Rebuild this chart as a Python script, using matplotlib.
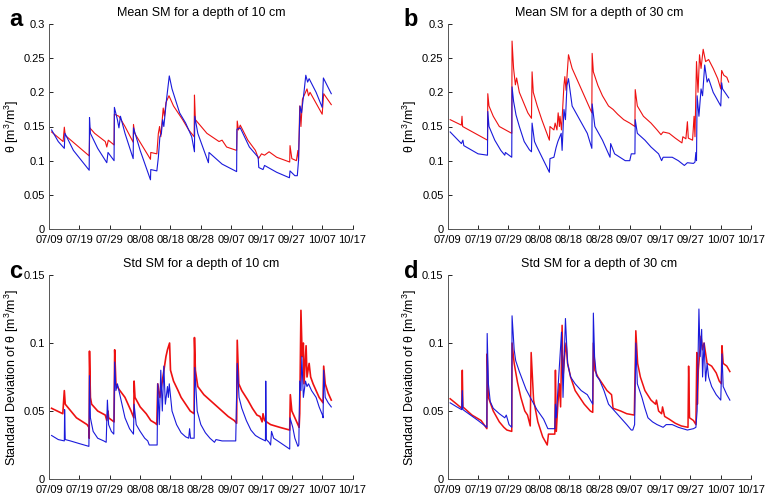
"""Soil moisture mean / std at 10 and 30 cm depth (4 panels)."""
import matplotlib
matplotlib.use("Agg")
import matplotlib.pyplot as plt

plt.rcParams["font.family"] = ["Liberation Sans", "DejaVu Sans"]
plt.rcParams["mathtext.fontset"] = "custom"
plt.rcParams["mathtext.rm"] = "Liberation Sans"

# x positions are days since 07/09
TICK_DAYS = [0, 10, 20, 30, 40, 50, 60, 70, 80, 90, 100]
TICK_LABELS = ["07/09", "07/19", "07/29", "08/08", "08/18", "08/28",
               "09/07", "09/17", "09/27", "10/07", "10/17"]

# --- panel a: mean SM, 10 cm
a_red_day = [0.8, 4.6, 5.0, 5.3, 13.2, 13.4, 15, 18.5, 19.0, 19.5, 21.4, 21.5, 23, 25, 27.7,
             27.8, 28.2, 33.4, 33.5, 35.5, 36.0, 36.4, 36.8, 37.6, 38.0, 38.5, 39.5, 41, 44, 46,
             47.8, 47.9, 48.2, 52, 56, 57, 58.5, 61.8, 62.0, 62.4, 63, 65.5, 68, 69.0, 70.0, 71,
             72.5, 75, 79.3, 79.4, 80, 81.5, 82.0, 82.2, 82.6, 83.0, 83.5, 85, 85.5, 86, 90.0,
             90.5, 93]
a_red_val = [0.142, 0.128, 0.149, 0.137, 0.107, 0.148, 0.14, 0.128, 0.12, 0.13, 0.123, 0.168,
             0.165, 0.15, 0.127, 0.153, 0.14, 0.102, 0.112, 0.11, 0.14, 0.15, 0.135, 0.177, 0.165,
             0.185, 0.195, 0.18, 0.16, 0.145, 0.135, 0.196, 0.16, 0.14, 0.128, 0.13, 0.12, 0.115,
             0.158, 0.145, 0.152, 0.13, 0.115, 0.103, 0.11, 0.108, 0.113, 0.105, 0.098, 0.122,
             0.103, 0.1, 0.115, 0.1, 0.18, 0.15, 0.19, 0.205, 0.195, 0.2, 0.168, 0.198, 0.182]
a_blue_day = [0.8, 3, 5.0, 5.2, 8, 13.2, 13.3, 13.6, 16, 19.0, 19.4, 21.4, 21.5, 22.5, 23.0,
              23.5, 25, 27.7, 27.8, 30, 33.4, 33.5, 35.5, 36.0, 36.5, 37.0, 37.4, 37.8, 38.7,
              39.6, 40.5, 43, 45, 47, 47.9, 48.0, 49, 52.5, 52.7, 57, 61.8, 61.9, 63, 66, 68.9,
              69.1, 70.5, 71, 75, 79.2, 79.4, 81, 81.8, 82.2, 82.7, 83.2, 84, 84.6, 85.2, 85.7,
              88, 90.0, 90.4, 93]
a_blue_val = [0.145, 0.128, 0.118, 0.14, 0.115, 0.086, 0.163, 0.14, 0.118, 0.097, 0.112, 0.1,
              0.178, 0.16, 0.148, 0.165, 0.14, 0.103, 0.148, 0.115, 0.072, 0.087, 0.085, 0.105,
              0.135, 0.14, 0.16, 0.15, 0.19, 0.224, 0.205, 0.17, 0.155, 0.135, 0.113, 0.165, 0.14,
              0.097, 0.112, 0.095, 0.084, 0.146, 0.148, 0.12, 0.105, 0.09, 0.087, 0.093, 0.083,
              0.075, 0.085, 0.078, 0.078, 0.1, 0.18, 0.17, 0.2, 0.225, 0.215, 0.22, 0.2, 0.178,
              0.221, 0.198]

# --- panel b: mean SM, 30 cm
b_red_day = [0.8, 4.5, 4.7, 4.9, 13.1, 13.2, 13.6, 15, 17, 21.1, 21.2, 21.7, 22.3, 22.7, 23.6,
             25, 26.4, 27.6, 27.8, 28.2, 29.5, 31, 33.5, 33.7, 35, 35.4, 36, 36.4, 36.8, 37.0,
             37.5, 38.3, 38.6, 39.0, 39.8, 41, 43, 44.5, 46, 47.5, 47.6, 48, 49.5, 51, 53, 54.5,
             56, 58, 60, 61.7, 61.8, 62.5, 64.5, 67, 69, 70.3, 71, 73, 75, 77.2, 77.5, 78.5,
             79.0, 79.3, 80.7, 81.2, 81.5, 82.0, 82.5, 83.0, 83.5, 84.2, 85, 86, 87.5, 89, 90.0,
             90.3, 91, 92, 92.6]
b_red_val = [0.16, 0.152, 0.165, 0.15, 0.13, 0.198, 0.18, 0.165, 0.15, 0.14, 0.275, 0.235,
             0.211, 0.221, 0.2, 0.185, 0.17, 0.162, 0.23, 0.2, 0.18, 0.16, 0.13, 0.15, 0.145,
             0.155, 0.145, 0.17, 0.15, 0.165, 0.145, 0.21, 0.223, 0.203, 0.255, 0.235, 0.215, 0.2,
             0.185, 0.17, 0.257, 0.23, 0.21, 0.195, 0.18, 0.175, 0.168, 0.16, 0.155, 0.15, 0.204,
             0.18, 0.165, 0.155, 0.145, 0.138, 0.142, 0.14, 0.133, 0.126, 0.135, 0.132, 0.157,
             0.133, 0.13, 0.165, 0.135, 0.245, 0.2, 0.255, 0.235, 0.263, 0.245, 0.248, 0.235,
             0.22, 0.205, 0.232, 0.225, 0.222, 0.215]
b_blue_day = [0.8, 4.5, 5.0, 5.3, 10, 13.1, 13.2, 13.6, 15.5, 17.5, 18.8, 19.0, 21.1, 21.2,
              21.7, 22.5, 23.6, 25.2, 26.9, 27.6, 27.8, 28.6, 29.2, 33.5, 33.7, 35, 35.7, 36.3,
              37.4, 37.7, 38.3, 38.8, 39.3, 39.8, 41, 43.5, 46, 47.5, 47.6, 48.5, 51, 53.5, 53.7,
              55, 58.5, 60, 60.5, 61.7, 61.8, 62.5, 65, 67, 69.5, 70.5, 71, 74, 76, 78, 79, 81,
              81.5, 81.8, 82.0, 82.2, 82.8, 83.5, 84.0, 84.7, 85.5, 86, 87.5, 90.0, 90.3, 90.6,
              92.6]
b_blue_val = [0.142, 0.125, 0.13, 0.122, 0.11, 0.108, 0.172, 0.15, 0.13, 0.115, 0.108, 0.112,
              0.105, 0.208, 0.187, 0.167, 0.15, 0.128, 0.116, 0.113, 0.155, 0.128, 0.122, 0.083,
              0.103, 0.105, 0.119, 0.128, 0.14, 0.115, 0.175, 0.16, 0.21, 0.22, 0.18, 0.16, 0.14,
              0.118, 0.183, 0.15, 0.13, 0.105, 0.125, 0.11, 0.1, 0.1, 0.11, 0.11, 0.16, 0.14,
              0.13, 0.12, 0.11, 0.1, 0.105, 0.105, 0.1, 0.093, 0.097, 0.096, 0.098, 0.112, 0.1,
              0.195, 0.165, 0.205, 0.195, 0.24, 0.215, 0.22, 0.2, 0.18, 0.214, 0.205, 0.192]

# --- panel c: std SM, 10 cm
c_red_day = [0.8, 4.5, 5.0, 5.3, 9, 12.5, 13.1, 13.2, 13.3, 13.6, 14, 16, 18.5, 19.0, 19.4,
             19.6, 21.4, 21.6, 22, 23, 25, 26, 27, 27.9, 28.0, 28.3, 30, 32, 33.5, 35, 35.5,
             35.8, 36.5, 37.5, 38.5, 39.0, 39.7, 40, 41, 42.5, 43.5, 45, 46.5, 47.8, 47.9, 48.2,
             49, 51, 53, 55, 57, 59, 61, 61.8, 62.0, 62.5, 63.5, 65.5, 67, 68.5, 69.5, 70.2,
             70.5, 71, 73, 76, 79.3, 79.5, 80, 81, 82, 82.4, 82.6, 83.0, 83.4, 83.8, 84.0, 84.7,
             85.0, 85.7, 86.2, 87, 88, 89, 90.3, 90.5, 91, 92, 93]
c_red_val = [0.052, 0.048, 0.065, 0.055, 0.045, 0.04, 0.038, 0.03, 0.094, 0.06, 0.055, 0.05,
             0.047, 0.043, 0.05, 0.045, 0.042, 0.095, 0.07, 0.066, 0.06, 0.055, 0.05, 0.045,
             0.072, 0.06, 0.053, 0.048, 0.043, 0.041, 0.04, 0.07, 0.06, 0.075, 0.09, 0.095, 0.1,
             0.08, 0.072, 0.065, 0.06, 0.055, 0.05, 0.048, 0.104, 0.08, 0.068, 0.062, 0.058,
             0.054, 0.05, 0.046, 0.043, 0.041, 0.102, 0.07, 0.065, 0.058, 0.052, 0.047, 0.046,
             0.042, 0.048, 0.043, 0.04, 0.038, 0.036, 0.062, 0.05, 0.045, 0.04, 0.038, 0.048,
             0.124, 0.09, 0.1, 0.07, 0.098, 0.075, 0.085, 0.075, 0.07, 0.065, 0.06, 0.056, 0.083,
             0.07, 0.063, 0.058]
c_blue_day = [0.8, 3, 5.0, 5.1, 5.3, 7, 10, 13.1, 13.3, 13.6, 14.5, 16, 18, 18.8, 19.2, 19.6,
              20.5, 21.3, 21.6, 22.0, 22.5, 23.5, 25, 26.5, 27.8, 28.0, 28.7, 30, 31.5, 32.5, 33,
              35.6, 35.8, 36.3, 36.8, 37.3, 37.8, 38.3, 39.0, 39.3, 39.6, 40.5, 42, 43.5, 45,
              46.0, 46.3, 46.6, 47.8, 48.0, 48.8, 50, 51.5, 53, 54.5, 55, 57, 61.5, 62.0, 62.6,
              63.5, 65, 66.5, 68, 69.5, 71.3, 71.4, 71.6, 72.5, 73.0, 73.3, 74, 76, 79.3, 79.4,
              80.3, 81, 82, 82.3, 82.6, 83.0, 83.3, 83.8, 84.5, 85.0, 85.5, 86.5, 88, 89, 90.1,
              90.3, 90.5, 91, 92, 93]
c_blue_val = [0.032, 0.029, 0.028, 0.051, 0.029, 0.028, 0.026, 0.024, 0.076, 0.045, 0.035,
              0.03, 0.028, 0.027, 0.058, 0.04, 0.035, 0.033, 0.086, 0.065, 0.07, 0.06, 0.045,
              0.037, 0.033, 0.055, 0.04, 0.035, 0.03, 0.028, 0.025, 0.025, 0.07, 0.04, 0.08, 0.05,
              0.083, 0.055, 0.068, 0.06, 0.07, 0.05, 0.04, 0.034, 0.031, 0.03, 0.037, 0.03, 0.03,
              0.082, 0.05, 0.04, 0.034, 0.03, 0.027, 0.029, 0.028, 0.028, 0.085, 0.06, 0.052,
              0.043, 0.036, 0.032, 0.03, 0.028, 0.072, 0.029, 0.027, 0.025, 0.035, 0.03, 0.027,
              0.022, 0.045, 0.038, 0.03, 0.024, 0.025, 0.072, 0.065, 0.09, 0.06, 0.072, 0.068,
              0.07, 0.065, 0.06, 0.053, 0.047, 0.045, 0.08, 0.06, 0.056, 0.053]

# --- panel d: std SM, 30 cm
d_red_day = [0.8, 3, 4.6, 4.8, 5.0, 8, 11, 12.9, 13.0, 13.4, 15, 17, 18.5, 19.5, 21.1, 21.2,
             21.9, 23.0, 24.1, 25.4, 26.3, 27.2, 27.5, 28.3, 29.7, 31.3, 32.8, 33.2, 35.3, 35.5,
             35.8, 36.3, 36.8, 37.2, 37.7, 38.0, 38.5, 39.0, 39.5, 40.5, 42, 43.5, 45, 47, 47.8,
             48.0, 48.5, 49.5, 51, 52.5, 54, 54.5, 57, 59, 61.5, 62.0, 62.6, 63.5, 65, 67, 68.5,
             68.8, 69.5, 70.5, 70.8, 71.5, 73, 75, 77, 79.2, 79.4, 79.7, 81, 81.8, 82.1, 82.3,
             82.6, 83.5, 84, 84.5, 85.5, 87, 88.5, 89.5, 90.2, 90.4, 90.8, 92, 93]
d_red_val = [0.059, 0.055, 0.052, 0.08, 0.053, 0.047, 0.043, 0.037, 0.092, 0.06, 0.05, 0.042,
             0.038, 0.036, 0.035, 0.1, 0.085, 0.071, 0.06, 0.05, 0.047, 0.039, 0.093, 0.058,
             0.042, 0.031, 0.025, 0.033, 0.033, 0.08, 0.035, 0.055, 0.07, 0.053, 0.113, 0.075,
             0.09, 0.1, 0.085, 0.075, 0.065, 0.06, 0.055, 0.05, 0.049, 0.1, 0.08, 0.075, 0.07,
             0.065, 0.062, 0.052, 0.05, 0.048, 0.047, 0.109, 0.085, 0.075, 0.065, 0.058, 0.055,
             0.058, 0.05, 0.048, 0.053, 0.046, 0.044, 0.041, 0.039, 0.038, 0.083, 0.045, 0.043,
             0.04, 0.093, 0.055, 0.08, 0.105, 0.095, 0.1, 0.085, 0.083, 0.078, 0.072, 0.07,
             0.098, 0.085, 0.083, 0.079]
d_blue_day = [0.8, 3, 4.6, 4.8, 5.0, 10, 12.9, 13.0, 13.4, 14, 15, 17, 18.8, 19.3, 20.2, 21.1,
              21.2, 21.9, 22.4, 23.6, 25.8, 27.2, 29.4, 31.6, 33, 35.3, 35.5, 35.8, 36.3, 37.5,
              38.0, 38.8, 39.5, 40.5, 42, 44, 46, 47.8, 48.0, 48.4, 49, 50, 51.5, 53, 55, 57, 59,
              60.5, 61, 61.6, 62.0, 62.5, 64, 65, 66, 67.5, 69, 71, 72, 74, 76, 79, 81, 81.8,
              82.2, 82.8, 83.2, 83.7, 84.0, 84.5, 85.0, 85.5, 86, 87, 88.5, 90, 90.4, 90.8, 92, 93]
d_blue_val = [0.056, 0.053, 0.051, 0.065, 0.051, 0.043, 0.038, 0.107, 0.07, 0.057, 0.052,
              0.048, 0.045, 0.047, 0.04, 0.038, 0.12, 0.095, 0.087, 0.079, 0.066, 0.06, 0.051,
              0.044, 0.037, 0.037, 0.055, 0.045, 0.065, 0.108, 0.06, 0.118, 0.085, 0.075, 0.07,
              0.065, 0.062, 0.055, 0.122, 0.09, 0.076, 0.073, 0.065, 0.055, 0.05, 0.045, 0.04,
              0.036, 0.036, 0.04, 0.1, 0.07, 0.06, 0.052, 0.045, 0.042, 0.04, 0.038, 0.04, 0.04,
              0.038, 0.036, 0.037, 0.038, 0.05, 0.125, 0.09, 0.11, 0.075, 0.1, 0.072, 0.085,
              0.075, 0.068, 0.062, 0.058, 0.092, 0.068, 0.062, 0.058]

RED = "#ee1111"
BLUE = "#1a1adb"
YLAB_MEAN = "θ [m$\\mathregular{^3}$/m$\\mathregular{^3}$]"
YLAB_STD = "Standard Deviation of θ [m$\\mathregular{^3}$/m$\\mathregular{^3}$]"

fig = plt.figure(figsize=(7.68, 5.0), dpi=100)

panels = [
    # rect, title, letter, red, blue, ylim, yticks, ylabel, red lw
    ([0.064, 0.542, 0.395, 0.410], "Mean SM for a depth of 10 cm", "a",
     (a_red_day, a_red_val), (a_blue_day, a_blue_val), 0.3,
     [0, 0.05, 0.1, 0.15, 0.2, 0.25, 0.3], YLAB_MEAN, 0.8),
    ([0.583, 0.542, 0.395, 0.410], "Mean SM for a depth of 30 cm", "b",
     (b_red_day, b_red_val), (b_blue_day, b_blue_val), 0.3,
     [0, 0.05, 0.1, 0.15, 0.2, 0.25, 0.3], YLAB_MEAN, 0.8),
    ([0.064, 0.042, 0.395, 0.408], "Std SM for a depth of 10 cm", "c",
     (c_red_day, c_red_val), (c_blue_day, c_blue_val), 0.15,
     [0, 0.05, 0.1, 0.15], YLAB_STD, 1.2),
    ([0.583, 0.042, 0.395, 0.408], "Std SM for a depth of 30 cm", "d",
     (d_red_day, d_red_val), (d_blue_day, d_blue_val), 0.15,
     [0, 0.05, 0.1, 0.15], YLAB_STD, 1.1),
]

for rect, title, letter, red, blue, ymax, yticks, ylabel, red_lw in panels:
    ax = fig.add_axes(rect)
    ax.plot(red[0], red[1], color=RED, lw=red_lw)
    ax.plot(blue[0], blue[1], color=BLUE, lw=0.8)
    ax.set_xlim(0, 100)
    ax.set_ylim(0, ymax)
    ax.set_xticks(TICK_DAYS)
    ax.set_xticklabels(TICK_LABELS)
    ax.set_yticks(yticks)
    ax.set_yticklabels([f"{t:g}" for t in yticks])
    ax.tick_params(direction="in", length=3, width=0.6, labelsize=8)
    ax.tick_params(axis="x", pad=4)
    ax.tick_params(axis="y", pad=3)
    for side in ("top", "right"):
        ax.spines[side].set_visible(False)
    for side in ("left", "bottom"):
        ax.spines[side].set_linewidth(0.7)
        ax.spines[side].set_color("#555555")
    ax.set_title(title, fontsize=9, pad=6)
    ax.set_ylabel(ylabel, fontsize=9, labelpad=2)
    x0 = 16 / 768 if letter in "ac" else 411 / 768
    y0 = 1 - 20 / 500 if letter in "ab" else 1 - 271 / 500
    fig.text(x0, y0, letter, fontsize=17, fontweight="bold", ha="center", va="center")

fig.savefig("out.png", dpi=100)
